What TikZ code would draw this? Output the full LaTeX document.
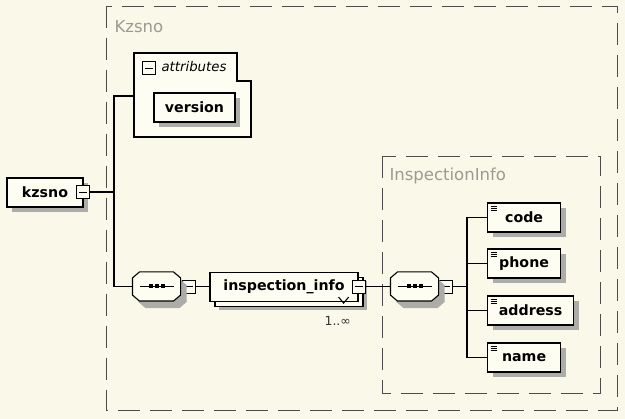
\documentclass[tikz,border=0pt]{standalone}
\usepackage{fontspec}
\setmainfont{DejaVu Sans}
\usetikzlibrary{shadows}
\definecolor{paper}{RGB}{250,248,232}
\definecolor{boxfill}{RGB}{254,253,241}
\definecolor{shade}{RGB}{172,172,168}
\definecolor{label}{RGB}{155,155,148}
\begin{document}
\begin{tikzpicture}[x=1pt,y=-1pt,line width=1.1pt,
  every node/.style={font=\fontsize{14.2}{16}\selectfont\bfseries, inner sep=0pt},
  box/.style={draw, line width=1.2pt, fill=boxfill, minimum height=29pt,
    drop shadow={shadow xshift=5pt,shadow yshift=-5pt,fill=shade,opacity=1}},
  stack/.style={draw, line width=1.2pt, fill=boxfill, minimum height=29pt,
    drop shadow={shadow xshift=9pt,shadow yshift=-9pt,fill=shade,opacity=1},
    copy shadow={shadow xshift=5pt,shadow yshift=-5pt,draw,fill=boxfill,line width=1.2pt}},
  elem/.style={box, anchor=west, path picture={\foreach \k in {0,2,4}
    \draw[line width=0.6pt] ([shift={(3pt,-3pt-\k pt)}]path picture bounding box.north west) -- ++(6pt,0pt);}},
  minus/.style={draw, line width=0.9pt, fill=boxfill, minimum size=13pt,
    path picture={\draw[line width=0.9pt] ([xshift=-4pt]path picture bounding box.center) -- ([xshift=4pt]path picture bounding box.center);}},
  seq/.style={minimum width=47pt, minimum height=28pt},
  octa/.style={draw, line width=1.1pt, fill=boxfill,
    drop shadow={shadow xshift=6pt,shadow yshift=-7pt,fill=shade,opacity=1}},
  grp/.style={draw=black!70, line width=0.9pt, dash pattern=on 22pt off 10pt},
  grplabel/.style={font=\fontsize{16.5}{18}\selectfont, text=label, anchor=west}]
  \fill[paper] (0,0) rectangle (625,419);
  \useasboundingbox (0,0) rectangle (625,419);

  \draw[grp, fill=paper] (106,6) rectangle (617,410);
  \node[grplabel] (kzlabel) at (114,27) {Kzsno};
  \draw[grp] (382,156) rectangle (600,393);
  \node[grplabel] (iilabel) at (389,176) {InspectionInfo};

  \node[box, minimum width=76pt] (kzsno) at (45,192.5) {kzsno};
  \node[minus] (kmin) at (83,192) {};

  \draw[fill=boxfill] (134,53) -- (237,53) -- (237,81) -- (251,81) -- (251,137) -- (134,137) -- cycle;
  \node[minus] (amin) at (149,68) {};
  \node[anchor=west, font=\fontsize{13.3}{15}\selectfont\itshape] (atext) at (161,67) {attributes};
  \coordinate (attr) at (134,96);
  \node[box, minimum width=81pt] (version) at (194.5,107.5) {version};

  \coordinate (j1) at (114,96);
  \node[seq] (seq1) at (156.5,286.5) {};
  \node[minus] (s1min) at (189,286.5) {};
  \node[stack, minimum width=148pt] (insp) at (284,287) {inspection\_info};
  \node[minus] (imin) at (358.5,286.5) {};
  \draw ([shift={(-20pt,5pt)}]insp.south east) -- ++(5,6) -- ++(5,-6);
  \node[anchor=west, font=\fontsize{12.5}{14}\selectfont, text=black!80] (card) at (324,321) {1..∞};

  \node[seq] (seq2) at (414.5,286.5) {};
  \node[minus] (s2min) at (446,286.5) {};

  \foreach \s in {seq1,seq2} {
    \draw[octa] ([xshift=7pt]\s.north west) -- ([xshift=-7pt]\s.north east) -- ([yshift=-6pt]\s.north east)
      -- ([yshift=6pt]\s.south east) -- ([xshift=-7pt]\s.south east) -- ([xshift=7pt]\s.south west)
      -- ([yshift=6pt]\s.south west) -- ([yshift=-6pt]\s.north west) -- cycle;
    \draw[line width=1.2pt] ([xshift=-17pt]\s.center) -- ([xshift=17pt]\s.center);
    \foreach \d in {-8,-2,4}
      \fill ([shift={(\d pt,-2pt)}]\s.center) rectangle ++(4pt,4pt);
  }

  \coordinate (bus) at (467,217.5);
  \node[elem, minimum width=73pt] (code) at (487,217.5) {code};
  \node[elem, minimum width=73pt] (phone) at (487,263.5) {phone};
  \node[elem, minimum width=86pt] (address) at (487,310.5) {address};
  \node[elem, minimum width=73pt] (name) at (487,357.5) {name};

  \draw (attr) -- (j1) -- (j1 |- seq1.west) -- (seq1.west);
  \draw (kmin.east) -- (kmin.east -| j1);
  \draw (s1min.east) -- (s1min.east -| insp.west);
  \draw (imin.east) -- (seq2.west);
  \draw (s2min.east) -- (s2min.east -| bus);
  \draw (code.west) -- (bus) -- (bus |- name.west) -- (name.west);
  \draw (bus |- phone.west) -- (phone.west);
  \draw (bus |- address.west) -- (address.west);
\end{tikzpicture}
\end{document}
